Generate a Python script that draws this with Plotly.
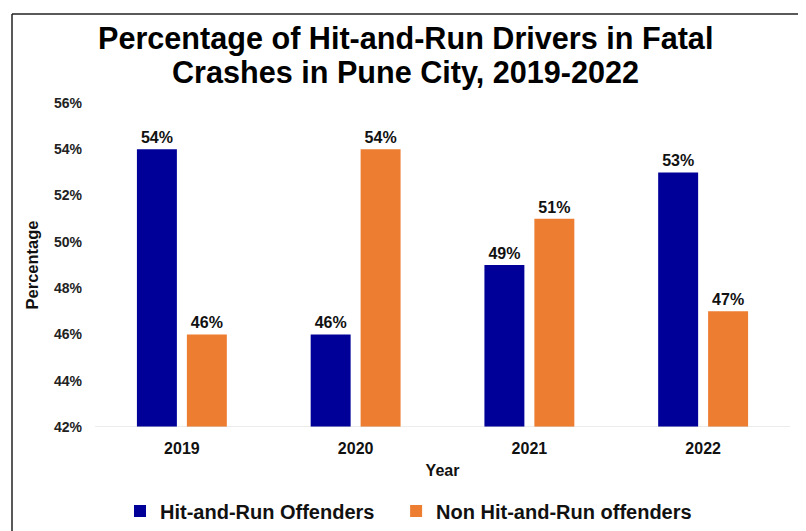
import plotly.graph_objects as go

years = ["2019", "2020", "2021", "2022"]
hit_run = [54, 46, 49, 53]
non_hit_run = [46, 54, 51, 47]
y_ticks = [42, 44, 46, 48, 50, 52, 54, 56]
y_tick_labels = [f"{v}%" for v in y_ticks]
title_lines = ["Percentage of Hit-and-Run Drivers in Fatal", "Crashes in Pune City, 2019-2022"]
series_names = ["Hit-and-Run Offenders", "Non Hit-and-Run offenders"]

FONT = "Liberation Sans, Arial, sans-serif"

# the page body keeps an 8px default margin, so the figure is sized to fit the window
W, H = 798, 523
L, R, T, B = 87, 16, 95, 104
PW, PH = W - L - R, H - T - B


def px_x(x):
    return (x - L) / PW


def px_y(y):
    return 1 + (T - y) / PH


NB = "\u00a0"

fig = go.Figure()
fig.add_trace(go.Bar(
    x=years, y=hit_run, name=f"<b>{series_names[0]}</b>" + NB * 3,
    marker=dict(color="#000099", line=dict(width=0)),
    text=[f"<b>{v}%</b>" for v in hit_run], textposition="outside",
    textfont=dict(family=FONT, size=16, color="#111111"),
    cliponaxis=False, constraintext="none",
))
fig.add_trace(go.Bar(
    x=years, y=non_hit_run, name=f"<b>{series_names[1]}</b>",
    marker=dict(color="#ED7D31", line=dict(width=0)),
    text=[f"<b>{v}%</b>" for v in non_hit_run], textposition="outside",
    textfont=dict(family=FONT, size=16, color="#111111"),
    cliponaxis=False, constraintext="none",
))

annotations = [
    dict(text=f"<b>{line}</b>", xref="paper", yref="paper", x=px_x(397), y=px_y(yy),
         xanchor="center", yanchor="middle", showarrow=False,
         font=dict(family=FONT, size=30.6, color="#000000"))
    for line, yy in zip(title_lines, [30, 64])
]

border = [
    dict(type="line", xref="paper", yref="paper", x0=px_x(4), x1=px_x(4), y0=px_y(6), y1=px_y(H + 5)),
    dict(type="line", xref="paper", yref="paper", x0=px_x(792), x1=px_x(792), y0=px_y(6), y1=px_y(H + 5)),
    dict(type="line", xref="paper", yref="paper", x0=px_x(4), x1=px_x(792), y0=px_y(6), y1=px_y(6)),
]
for s in border:
    s["line"] = dict(color="#222222", width=1.5)
    s["layer"] = "above"

fig.update_layout(
    width=W, height=H,
    margin=dict(l=L, r=R, t=T, b=B, autoexpand=False),
    paper_bgcolor="white", plot_bgcolor="white",
    font=dict(family=FONT, color="#111111"),
    barmode="group", bargap=0.425, bargroupgap=0.2,
    showlegend=True,
    legend=dict(
        orientation="h", xref="container", yref="container",
        x=112 / W, xanchor="left", y=1 - 503 / H, yanchor="middle",
        font=dict(family=FONT, size=20, color="#111111"),
        traceorder="normal", itemwidth=30,
    ),
    xaxis=dict(
        title=dict(text="<b>Year</b>", font=dict(family=FONT, size=16, color="#111111"), standoff=8),
        tickfont=dict(family=FONT, size=16, color="#111111"),
        ticktext=[f"<b>{y}</b>" for y in years], tickvals=years,
        showline=False, showgrid=False, ticks="", ticklabelstandoff=10,
        automargin=False,
    ),
    yaxis=dict(
        range=[42, 56], tickvals=y_ticks, ticktext=[f"<b>{t}</b>" for t in y_tick_labels],
        tickfont=dict(family=FONT, size=14, color="#222222"),
        title=dict(text="<b>Percentage</b>", font=dict(family=FONT, size=16.5, color="#111111"), standoff=11),
        showgrid=False, zeroline=False, showline=False, ticks="", ticklabelstandoff=12,
        automargin=False,
    ),
    annotations=annotations,
    shapes=[
        dict(type="line", xref="paper", yref="y", x0=0, x1=1, y0=42, y1=42,
             line=dict(color="#D9D9D9", width=1)),
    ] + border,
)

fig.write_html("out.html")
